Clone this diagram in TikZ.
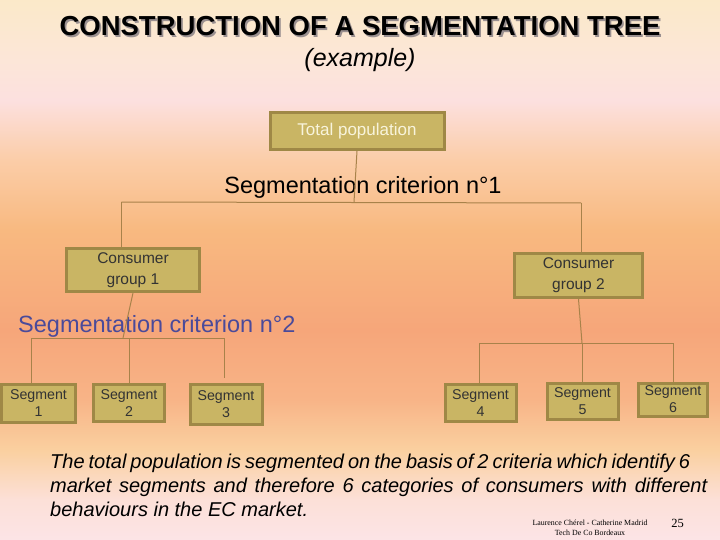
\documentclass[tikz,border=0pt]{standalone}
\usepackage{fontspec}
\setmainfont{Liberation Sans}
\newfontfamily\footfont{Liberation Serif}

\definecolor{bgtop}{HTML}{FBE9C9}
\definecolor{bgpink}{HTML}{FCE6D8}
\definecolor{bgrose}{HTML}{FCE0DF}
\definecolor{bgpeach}{HTML}{FBCDA8}
\definecolor{bgorange}{HTML}{F8B980}
\definecolor{bgsalmon}{HTML}{F6A67A}
\definecolor{bglow}{HTML}{F8B487}
\definecolor{bglight}{HTML}{FAD0A0}
\definecolor{bgfoot}{HTML}{FCE0D8}
\definecolor{bgbot}{HTML}{FCE4E6}
\definecolor{boxfill}{HTML}{C9B564}
\definecolor{boxline}{HTML}{9F8846}
\definecolor{boxtext}{HTML}{F8F4DC}
\definecolor{darktext}{HTML}{333333}
\definecolor{branchline}{HTML}{A8824A}
\definecolor{critblue}{HTML}{4A4A9A}
\definecolor{shadowgray}{HTML}{9A9090}

\pgfdeclareverticalshading{slidebg}{100bp}{color(0bp)=(bgbot); color(25bp)=(bgbot);
  color(28.7bp)=(bgfoot); color(33.3bp)=(bglight); color(38bp)=(bglow);
  color(44.4bp)=(bgsalmon); color(53.7bp)=(bgorange); color(60.2bp)=(bgpeach);
  color(65.7bp)=(bgrose); color(69.4bp)=(bgpink); color(75bp)=(bgtop); color(100bp)=(bgtop)}

\newcommand{\shadowed}[1]{\rlap{\kern1.8pt\raisebox{-1.8pt}{\color{shadowgray}#1}}#1}

\tikzset{
  box/.style={draw=boxline, line width=3pt, fill=boxfill, inner sep=0pt, align=center, text=darktext},
  branch/.style={draw=branchline, line width=1pt},
  crit/.style={font=\fontsize{23.5}{28}\selectfont},
  segfont/.style={font=\fontsize{14.2}{17}\selectfont},
  groupfont/.style={font=\fontsize{15.5}{21}\selectfont},
  note/.style={anchor=base west, inner sep=0pt, font=\fontsize{20}{24}\itshape\selectfont}
}

\begin{document}
\begin{tikzpicture}[x=1pt,y=-1pt]
\useasboundingbox (0,0) rectangle (720,540);
\shade[shading=slidebg] (0,0) rectangle (720,540);

\node[font=\fontsize{27.5}{32}\bfseries\selectfont] (title) at (360,27) {\shadowed{CONSTRUCTION OF A SEGMENTATION TREE}};
\node[font=\fontsize{25}{30}\itshape\selectfont] (example) at (360,60) {(example)};

\node[box, text=boxtext, minimum width=174pt, minimum height=37pt, font=\fontsize{17}{20}\selectfont] (total) at (357,131) {Total population};
\node[crit] (crit1) at (363,187) {Segmentation criterion n°1};

\node[box, groupfont, minimum width=133pt, minimum height=43pt] (cg1) at (133,270) {Consumer\\group 1};
\node[box, groupfont, minimum width=128pt, minimum height=44pt] (cg2) at (578.5,275.5) {Consumer\\group 2};

\node[crit, text=critblue, anchor=west, inner sep=0pt] (crit2) at (18,326) {Segmentation criterion n°2};

\node[box, segfont, minimum width=74pt, minimum height=38pt] (seg1) at (38.5,403) {Segment\\1};
\node[box, segfont, minimum width=71pt, minimum height=37pt] (seg2) at (129,403) {Segment\\2};
\node[box, segfont, minimum width=72pt, minimum height=40pt] (seg3) at (226,404.5) {Segment\\3};
\node[box, segfont, minimum width=71pt, minimum height=37pt] (seg4) at (480.5,403) {Segment\\4};
\node[box, segfont, minimum width=71pt, minimum height=36pt] (seg5) at (582.5,401) {Segment\\5};
\node[box, segfont, minimum width=69pt, minimum height=33pt] (seg6) at (673,399.5) {Segment\\6};

\coordinate (j1) at (354,202);
\coordinate (l1) at (121.5,202);
\coordinate (r1) at (581,203);
\draw[branch] (total.south) -- (j1);
\draw[branch] (l1) -- (r1);
\draw[branch] (l1) -- (l1 |- cg1.north);
\draw[branch] (r1) -- (r1 |- cg2.north);

\coordinate (j2) at (123,338);
\coordinate (l2) at (31,338);
\coordinate (r2) at (224,338);
\draw[branch] (cg1.south) -- (j2);
\draw[branch] (l2) -- (r2);
\draw[branch] (l2) -- (l2 |- seg1.north);
\draw[branch] (seg2.north |- j2) -- (seg2.north);
\draw[branch] (r2) -- (224,378);

\coordinate (j3) at (582,343);
\coordinate (l3) at (479,343);
\coordinate (r3) at (673,343);
\draw[branch] (cg2.south) -- (j3);
\draw[branch] (l3) -- (r3);
\draw[branch] (l3) -- (l3 |- seg4.north);
\draw[branch] (j3) -- (j3 |- seg5.north);
\draw[branch] (r3) -- (seg6.north);

\node[note] (note1) at (50,468) {\makebox[640pt][s]{The total population is segmented on the basis of 2 criteria which identify 6}};
\node[note] (note2) at (50,492) {\makebox[657pt][s]{market segments and therefore 6 categories of consumers with different}};
\node[note] (note3) at (50,516) {behaviours in the EC market.};

\node[font=\footfont\fontsize{7.9}{9.5}\selectfont, align=center, inner sep=0pt] (credit) at (590,528) {Laurence Chérel - Catherine Madrid\\Tech De Co Bordeaux};
\node[font=\footfont\fontsize{12.5}{14}\selectfont, inner sep=0pt] (page) at (677.5,523) {25};
\end{tikzpicture}
\end{document}
